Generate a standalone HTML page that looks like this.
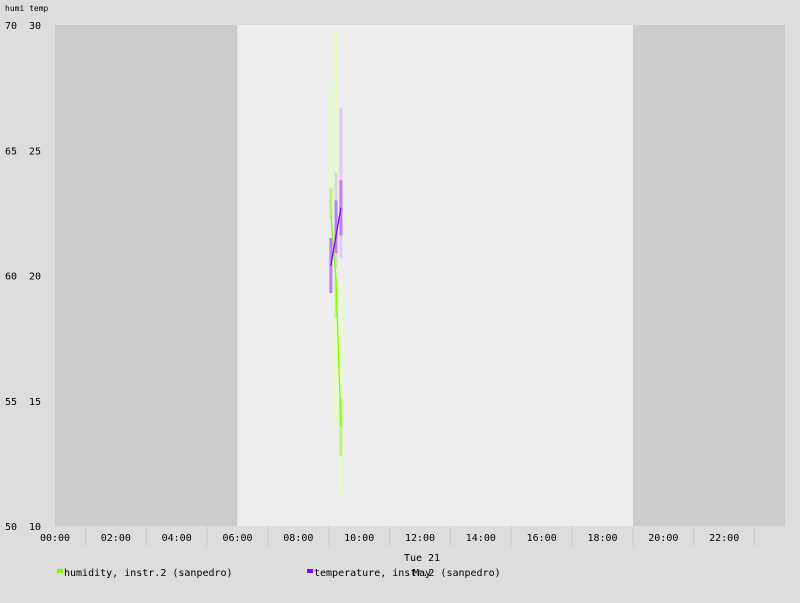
<!DOCTYPE html>
<html><head><meta charset="utf-8"><style>
html,body{margin:0;padding:0;background:#dddddd;}
svg{display:block;font-family:"DejaVu Sans Mono","Liberation Mono",monospace;}
</style></head><body>
<svg id="chart" width="800" height="603" xmlns="http://www.w3.org/2000/svg">
<rect x="0" y="0" width="800" height="603" fill="#dddddd"/>
<g id="plot"></g>
<text x="5" y="11" font-size="8" fill="#000">humi temp</text>
<g id="axes"></g>
<text x="422" y="561" font-size="10" text-anchor="middle" fill="#000">Tue 21</text>
<text x="422" y="576" font-size="10" text-anchor="middle" fill="#000">May</text>
<g>
<rect x="57" y="569" width="6" height="4" fill="#7cfc00"/>
<text x="64" y="576" font-size="10" fill="#000">humidity, instr.2 (sanpedro)</text></g>
<g>
<rect x="307" y="569" width="6" height="4" fill="#8000ff"/>
<text x="314" y="576" font-size="10" fill="#000">temperature, instr.2 (sanpedro)</text></g>
</svg>
<script>
const times=[9.07,9.24,9.40];
const humi=[62.4,59.8,54.0];
const humiInnerLo=[62.3,58.3,52.8];
const humiInnerHi=[63.5,59.9,55.1];
const humiOuterLo=[62.3,54.0,51.3];
const humiOuterHi=[67.6,69.7,59.7];
const temp=[20.4,21.6,22.7];
const tempInnerLo=[19.3,20.9,21.6];
const tempInnerHi=[21.5,23.0,23.8];
const tempOuterLo=[19.3,20.3,20.7];
const tempOuterHi=[21.5,24.1,26.7];
const humiTicks=[50,55,60,65,70];
const tempTicks=[10,15,20,25,30];
const hourTicks=[0,2,4,6,8,10,12,14,16,18,20,22];
const nights=[[0,6],[19,24]];

const X0=55,X1=785,Y0=526,Y1=25,NS="http://www.w3.org/2000/svg";
const xs=h=>X0+(X1-X0)*h/24;
const yh=v=>Y0-(Y0-Y1)*(v-50)/20;
const yt=v=>Y0-(Y0-Y1)*(v-10)/20;
function mk(t,a,p){const e=document.createElementNS(NS,t);for(const k in a)e.setAttribute(k,a[k]);p.appendChild(e);return e;}
const plot=document.getElementById('plot'),axes=document.getElementById('axes');
let r=mk('rect',{x:X0,y:Y1,width:X1-X0,height:Y0-Y1,fill:'#eeeeee'},plot);


nights.forEach(n=>{const e=mk('rect',{x:xs(n[0]),y:Y1,width:xs(n[1])-xs(n[0]),height:Y0-Y1,fill:'#cccccc'},plot);

});
const yfn={humidity:yh,temperature:yt};
function bands(lo,hi,col,op,name){times.forEach((t,i)=>{const e=mk('rect',{x:xs(t)-1.5,y:Math.min(yfn[name](hi[i]),yfn[name](lo[i])),width:3,height:Math.abs(yfn[name](lo[i])-yfn[name](hi[i])),fill:col,'fill-opacity':op},plot);

});}
bands(humiOuterLo,humiOuterHi,'#e6ffc0',1,'humidity');
bands(tempOuterLo,tempOuterHi,'#c080ff',0.3,'temperature');
bands(humiInnerLo,humiInnerHi,'#b4f060',0.8,'humidity');
bands(tempInnerLo,tempInnerHi,'#a040ff',0.55,'temperature');
let p=mk('polyline',{points:times.map((t,i)=>xs(t)+','+yh(humi[i])).join(' '),fill:'none',stroke:'#7cfc00','stroke-width':1.3},plot);


p=mk('polyline',{points:times.map((t,i)=>xs(t)+','+yt(temp[i])).join(' '),fill:'none',stroke:'#8000ff','stroke-width':1.3},plot);


humiTicks.forEach((v,i)=>{const e=mk('text',{x:5,y:yh(v)+4,'font-size':10,fill:'#000'},axes);e.textContent=v;


const f=mk('text',{x:29,y:yt(tempTicks[i])+4,'font-size':10,fill:'#000'},axes);f.textContent=tempTicks[i];

});
hourTicks.forEach(h=>{const e=mk('text',{x:xs(h),y:541,'font-size':10,'text-anchor':'middle',fill:'#000'},axes);
e.textContent=(h<10?'0':'')+h+':00';


const l=mk('line',{x1:xs(h+1),x2:xs(h+1),y1:Y0,y2:546,stroke:'#cccccc','stroke-width':1},axes);

});
</script>
</body></html>
